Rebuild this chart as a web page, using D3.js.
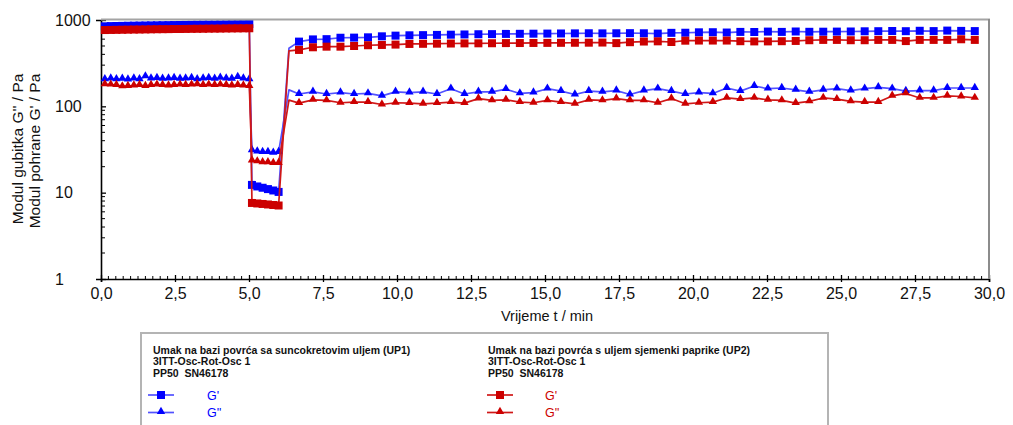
<!DOCTYPE html>
<html><head><meta charset="utf-8">
<script src="https://cdn.jsdelivr.net/npm/d3@7"></script>
<style>body{margin:0;background:#fff}svg{display:block;font-family:"Liberation Sans",Arial,sans-serif}</style>
</head><body><svg id="c" width="1013" height="425"></svg>
<script>
// ---- time (min) ----
const timeSeg1 = [0.13,0.33,0.52,0.72,0.91,1.11,1.30,1.50,1.69,1.89,2.08,2.28,2.47,2.67,2.86,3.06,3.25,3.45,3.64,3.84,4.03,4.23,4.42,4.62,4.81,5.01];
const timeSeg2 = [5.10,5.28,5.46,5.64,5.82,6.00];
const timeSeg3 = [6.35,6.69,7.16,7.62,8.09,8.55,9.02,9.49,9.95,10.42,10.88,11.35,11.82,12.28,12.75,13.21,13.68,14.15,14.61,15.08,15.54,16.01,16.48,16.94,17.41,17.87,18.34,18.81,19.27,19.74,20.20,20.67,21.14,21.60,22.07,22.53,23.00,23.47,23.93,24.40,24.86,25.33,25.80,26.26,26.73,27.19,27.66,28.13,28.59,29.06,29.52];
const noMarkerTimes = [6.35];

// ---- UP1 (blue) ----
const up1StorageSeg1 = [845,850,852,855,858,860,862,864,866,868,870,872,874,876,878,880,882,884,885,886,888,890,892,894,896,898];
const up1StorageSeg2 = [12.3,11.8,11.4,11.0,10.6,10.2];
const up1StorageSeg3 = [470,562,596,600,623,625,630,647,659,665,668,672,676,680,684,686,690,692,694,696,698,700,702,700,702,704,702,696,710,712,720,722,716,728,726,734,728,736,730,732,734,736,740,742,746,742,750,744,754,748,744];
const up1LossSeg1 = [205,210,206,208,204,210,206,222,210,212,208,210,212,208,210,212,206,210,212,208,214,210,208,218,210,206];
const up1LossSeg2 = [31,30,29.5,29.5,29,29.5];
const up1LossSeg3 = [155,139,147,139,144,139,141,132,147,144,147,139,160,139,147,147,158,141,144,160,150,137,150,147,152,137,152,160,150,139,144,141,163,150,172,160,163,155,147,155,160,152,160,166,160,150,152,152,163,163,163];

// ---- UP2 (red) ----
const up2StorageSeg1 = [765,767,769,771,773,775,776,778,780,782,783,784,786,787,788,790,791,792,794,795,796,798,799,800,801,802];
const up2StorageSeg2 = [7.6,7.5,7.4,7.3,7.2,7.1];
const up2StorageSeg3 = [440,450,483,491,491,500,510,514,519,528,530,532,534,536,537,538,540,541,542,543,544,545,546,548,540,553,563,566,556,576,578,578,578,568,565,565,568,572,583,588,588,583,583,588,588,570,588,588,588,598,588];
const up2LossSeg1 = [180,178,176,170,172,174,176,172,176,178,176,174,176,178,176,178,180,176,178,176,178,176,174,176,174,172];
const up2LossSeg2 = [23.5,23,22.5,22.5,22,22];
const up2LossSeg3 = [118,109,119,117,110,112,112,105,110,109,107,109,112,109,123,117,119,112,110,117,112,107,119,117,123,117,117,110,123,107,110,112,125,121,125,119,117,109,114,125,121,114,112,112,132,141,125,125,132,130,125];

// ---- ticks / texts ----
const xTicks = [0,2.5,5,7.5,10,12.5,15,17.5,20,22.5,25,27.5,30];
const yTicks = [1,10,100,1000];
const xTitle = "Vrijeme t / min";
const yTitles = ["Modul gubitka G'' / Pa","Modul pohrane G' / Pa"];
const legendGroups = [
  {lines:["Umak na bazi povrća sa suncokretovim uljem (UP1)","3ITT-Osc-Rot-Osc 1","PP50  SN46178"], color:"#0000ff", lineColor:"#5252ff"},
  {lines:["Umak na bazi povrća s uljem sjemenki paprike (UP2)","3ITT-Osc-Rot-Osc 1","PP50  SN46178"], color:"#cc0000", lineColor:"#d01818"}
];
const seriesNames = ["G'","G''"];

const time = [...timeSeg1,...timeSeg2,...timeSeg3];
const mk = (a,b,c)=>[...a,...b,...c].map((v,i)=>({t:time[i],v}));
const series = [
  {data:mk(up1StorageSeg1,up1StorageSeg2,up1StorageSeg3), shape:"square", g:0},
  {data:mk(up1LossSeg1,up1LossSeg2,up1LossSeg3), shape:"triangle", g:0},
  {data:mk(up2StorageSeg1,up2StorageSeg2,up2StorageSeg3), shape:"square", g:1},
  {data:mk(up2LossSeg1,up2LossSeg2,up2LossSeg3), shape:"triangle", g:1}
];

const svg = d3.select("#c");
const L=101,R=989,T=20,B=279;
const x = d3.scaleLinear().domain([0,30]).range([L,R]);
const y = d3.scaleLog().domain([1,1000]).range([B,T]);

// x axis
const fmt = d=>d3.format(".1f")(d).replace(".",",");
const xMinor = d3.range(0,30.001,0.25).filter(v=>Math.abs(v/2.5-Math.round(v/2.5))>1e-6);
const gx = svg.append("g").attr("transform",`translate(0,${B})`);
gx.call(d3.axisBottom(x).tickValues(xTicks).tickFormat(fmt).tickSize(3).tickPadding(6));
gx.select(".domain").attr("stroke","#000").attr("stroke-width",1.6);
gx.selectAll(".tick line").attr("y1",-4).attr("stroke","#000").attr("stroke-width",1.3);
gx.selectAll(".tick text").attr("font-size",16).attr("font-family","Liberation Sans, Arial, sans-serif").attr("fill","#111");
gx.selectAll(".minor").data(xMinor).enter().append("line").attr("x1",d=>x(d)).attr("x2",d=>x(d)).attr("y1",0).attr("y2",-3).attr("stroke","#000").attr("stroke-width",1);

// y axis
const gy = svg.append("g").attr("transform",`translate(${L},0)`);
gy.call(d3.axisLeft(y).tickValues(yTicks).tickFormat(d3.format("d")).tickSize(5));
gy.select(".domain").attr("stroke","#000").attr("stroke-width",1.6);
gy.selectAll(".tick line").attr("x2",5).attr("stroke","#000").attr("stroke-width",1.3);
gy.selectAll(".tick text").attr("font-size",16).attr("font-family","Liberation Sans, Arial, sans-serif").attr("fill","#111")
  .attr("text-anchor","start").attr("x",55-L);
const yMinor = [];
[1,10,100].forEach(d=>{for(let k=2;k<=9;k++) yMinor.push(d*k);});
gy.selectAll(".minor").data(yMinor).enter().append("line").attr("y1",d=>y(d)).attr("y2",d=>y(d)).attr("x1",0).attr("x2",4).attr("stroke","#000").attr("stroke-width",1);

// titles
svg.append("text").attr("x",(L+R)/2+2).attr("y",321).attr("text-anchor","middle").attr("font-size",14.5).attr("fill","#111").text(xTitle);
yTitles.forEach((t,i)=>{
  svg.append("text").attr("transform",`translate(${23+i*17},${149+i*2}) rotate(-90)`).attr("text-anchor","middle").attr("font-size",15.5).attr("fill","#111").text(t);
});

// data
const line = d3.line().x(d=>x(d.t)).y(d=>y(d.v));
const sq = d3.symbol().type(d3.symbolSquare).size(64);
const tri = d3.symbol().type(d3.symbolTriangle).size(30);
series.forEach(s=>{
  const grp = legendGroups[s.g];
  svg.append("path").datum(s.data).attr("d",line).attr("fill","none").attr("stroke",grp.lineColor).attr("stroke-width",1.7).attr("stroke-linejoin","round");
  svg.append("g").selectAll("path").data(s.data.filter(d=>!noMarkerTimes.includes(d.t))).enter().append("path")
    .attr("transform",d=>`translate(${x(d.t)},${y(d.v)+(s.shape==="triangle"?-0.5:0)})`)
    .attr("d",s.shape==="square"?sq:tri).attr("fill",grp.color);
});

// frame top/right (drawn over data)
svg.append("line").attr("x1",L).attr("x2",R+1).attr("y1",T-0.5).attr("y2",T-0.5).attr("stroke","#a4a4a4").attr("stroke-width",2);
svg.append("line").attr("x1",R).attr("x2",R).attr("y1",T-1).attr("y2",B).attr("stroke","#8c8c8c").attr("stroke-width",2);

// legend box
svg.append("rect").attr("x",141).attr("y",333).attr("width",687).attr("height",130).attr("fill","none").attr("stroke","#b4b4b4").attr("stroke-width",2);
legendGroups.forEach((g,gi)=>{
  const tx = gi===0?153:488;
  g.lines.forEach((ln,li)=>{
    svg.append("text").attr("x",tx).attr("y",353.5+li*11.5).attr("font-size",10.5).attr("font-weight","bold").attr("fill","#111").attr("xml:space","preserve").text(ln);
  });
  const sx = gi===0?148:487, lx = gi===0?207:545;
  seriesNames.forEach((n,ni)=>{
    const yy = 395+ni*17.5;
    svg.append("line").attr("x1",sx).attr("x2",sx+26).attr("y1",yy).attr("y2",yy).attr("stroke",g.lineColor).attr("stroke-width",1.7);
    svg.append("path").attr("transform",`translate(${sx+13},${yy-(ni?1:0)})`).attr("d",ni?tri:sq).attr("fill",g.color);
    svg.append("text").attr("x",lx).attr("y",yy+4.5).attr("font-size",12.5).attr("fill",g.color).text(n);
  });
});
</script></body></html>
